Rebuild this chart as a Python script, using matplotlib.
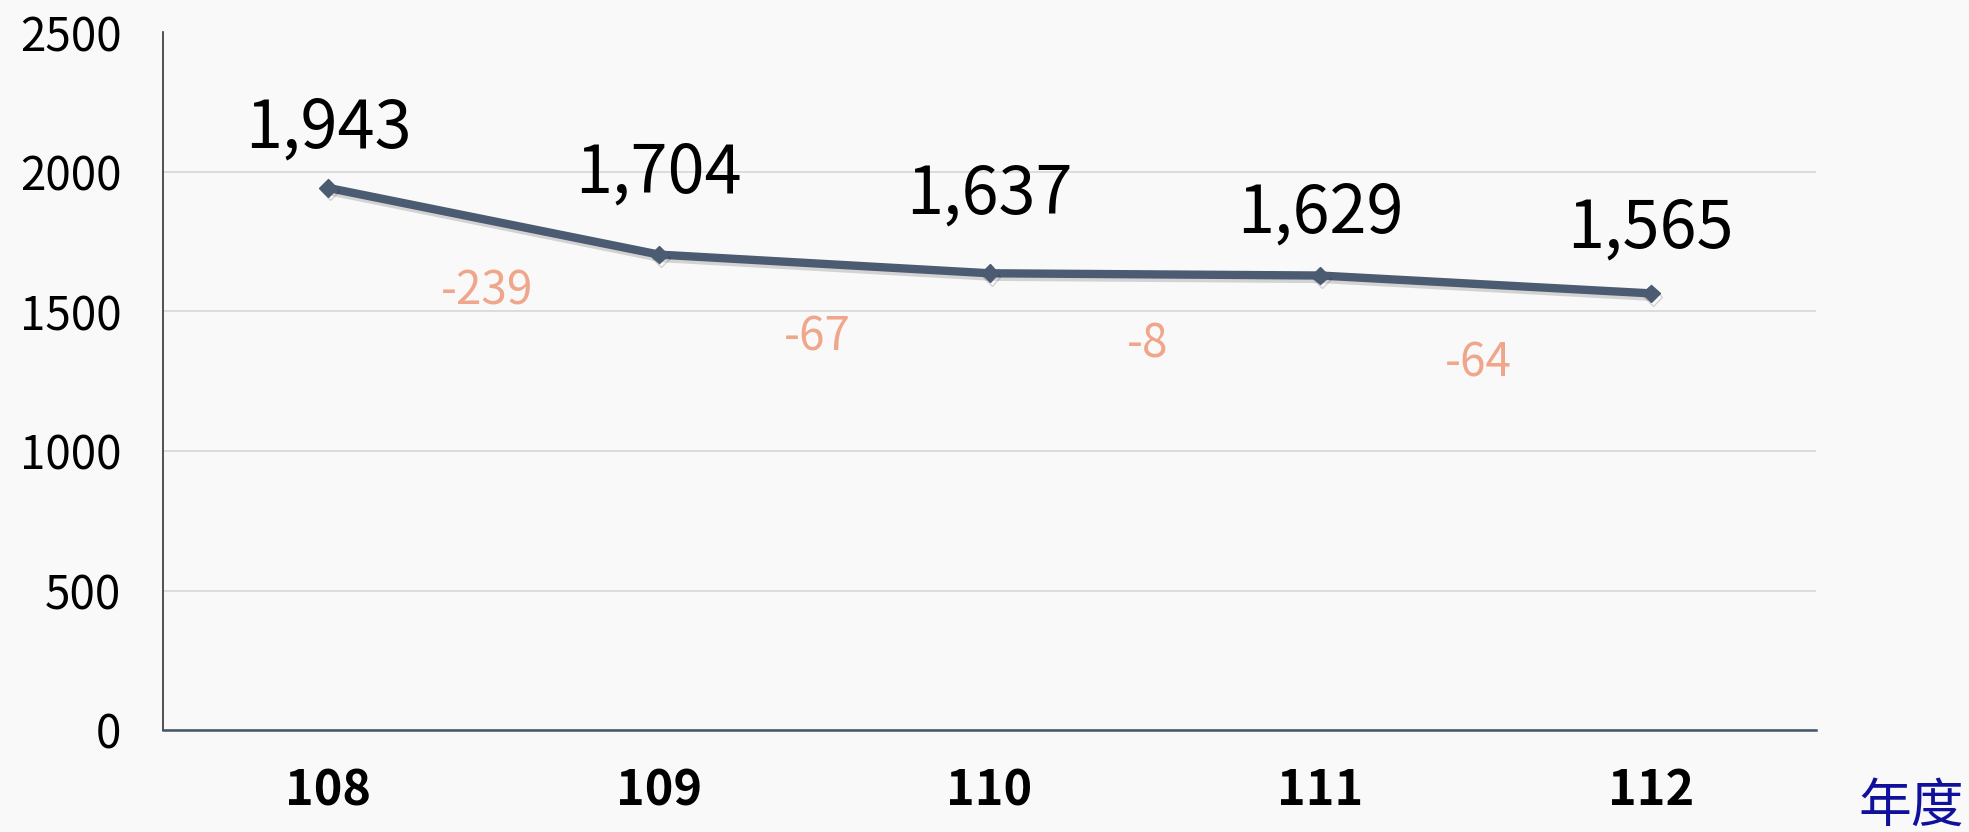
import matplotlib
matplotlib.use("Agg")
import matplotlib.pyplot as plt
import matplotlib.patheffects as pe
import numpy as np

# ---- data ----
years = ["108", "109", "110", "111", "112"]
values = [1943, 1704, 1637, 1629, 1565]
yticks = [0, 500, 1000, 1500, 2000, 2500]
xlabel_text = "年度"

# ---- style ----
label_offsets_pt = [29, 45, 43, 31, 33]     # baseline offset above point
delta_offsets_pt = [-60, -62, -60, -66]     # baseline offset below segment midpoint
bg = "#F9F9F9"
line_color = "#4A5B72"
delta_color = "#EFA68B"

plt.rcParams['font.family'] = ['Noto Sans CJK TC', 'DejaVu Sans']

fig = plt.figure(figsize=(19.69, 8.32), dpi=100, facecolor=bg)
ax = fig.add_axes([163 / 1969, 1 - 730 / 832, (1816 - 163) / 1969, (730 - 32.5) / 832])
ax.set_facecolor(bg)

x = np.arange(len(years))
ax.plot(x, values, color=line_color, lw=6, marker='D', ms=9, zorder=3,
        solid_joinstyle='round', solid_capstyle='round',
        path_effects=[pe.SimpleLineShadow(offset=(1.5, -2.5), alpha=0.15, shadow_color='black'),
                      pe.Normal()])

ax.set_xlim(-0.5, len(years) - 0.5)
ax.set_ylim(0, 2500)
ax.set_yticks(yticks)
ax.set_yticklabels([str(v) for v in yticks], fontsize=33, fontweight='medium', color='black')
ax.set_xticks(x)
ax.set_xticklabels(years, fontsize=35, fontweight='semibold', color='black')
ax.tick_params(axis='y', length=0, pad=30)
ax.tick_params(axis='x', length=0, pad=26)

ax.grid(axis='y', color='#D9D9D9', lw=1.3)
ax.set_axisbelow(True)
for s in ['top', 'right']:
    ax.spines[s].set_visible(False)
ax.spines['left'].set_color('#333333')
ax.spines['left'].set_linewidth(1.2)
ax.spines['bottom'].set_color('#44546A')
ax.spines['bottom'].set_linewidth(1.8)

# value labels
for xi, v, off in zip(x, values, label_offsets_pt):
    ax.annotate(f"{v:,}", (xi, v), xytext=(0, off), textcoords='offset points',
                ha='center', va='baseline', fontsize=48, color='black')

# change labels
deltas = np.diff(values)
for i, (d, off) in enumerate(zip(deltas, delta_offsets_pt)):
    xm = (x[i] + x[i + 1]) / 2
    ym = (values[i] + values[i + 1]) / 2
    ax.annotate(f"{d:d}", (xm, ym), xytext=(-5, off), textcoords='offset points',
                ha='center', va='baseline', fontsize=33, color=delta_color)

fig.text(1858 / 1969, 1 - 806 / 832, xlabel_text, ha='left', va='center',
         fontsize=38, color='#10109C')

fig.savefig("out.png", dpi=100, facecolor=bg)
